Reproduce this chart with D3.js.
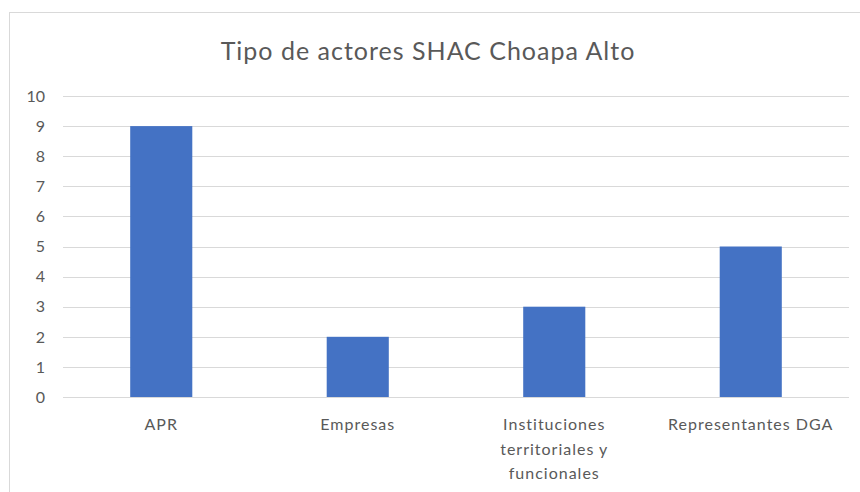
<!DOCTYPE html>
<html>
<head>
<meta charset="utf-8">
<script src="https://cdn.jsdelivr.net/npm/d3@7"></script>
<style>
  body { margin: 0; background: #fff; }
  svg { display: block; font-family: Lato, "Noto Sans", sans-serif; }
</style>
</head>
<body>
<svg id="chart" width="860" height="492"></svg>
<script>
const categories = ["APR", "Empresas", "Instituciones territoriales y funcionales", "Representantes DGA"];
const labelLines = [["APR"], ["Empresas"], ["Instituciones", "territoriales y", "funcionales"], ["Representantes DGA"]];
const values = [9, 2, 3, 5];
const yTicks = [0, 1, 2, 3, 4, 5, 6, 7, 8, 9, 10];
const title = "Tipo de actores SHAC Choapa Alto";

const svg = d3.select("#chart");

// chart area border
svg.append("rect")
  .attr("x", 9.5).attr("y", 12.5)
  .attr("width", 880).attr("height", 520)
  .attr("fill", "white")
  .attr("stroke", "#d9d9d9");

svg.append("text")
  .attr("x", 428).attr("y", 60)
  .attr("text-anchor", "middle")
  .attr("font-size", 25)
  .attr("letter-spacing", 1)
  .attr("fill", "#595959")
  .text(title);

const x = d3.scaleBand()
  .domain(categories)
  .range([63, 849])
  .paddingInner(0.684)
  .paddingOuter(0.342);

const y = d3.scaleLinear()
  .domain([0, 10])
  .range([397, 96]);

const g = svg.append("g");

g.selectAll("line.grid")
  .data(yTicks)
  .enter()
  .append("line")
  .attr("class", "grid")
  .attr("x1", 63).attr("x2", 849)
  .attr("y1", d => Math.round(y(d)) + 0.5)
  .attr("y2", d => Math.round(y(d)) + 0.5)
  .attr("stroke", "#d9d9d9")
  .attr("stroke-width", 1);

g.selectAll("text.ytick")
  .data(yTicks)
  .enter()
  .append("text")
  .attr("class", "ytick")
  .attr("x", 45)
  .attr("y", d => y(d))
  .attr("dy", "0.36em")
  .attr("text-anchor", "end")
  .attr("font-size", 16)
  .attr("fill", "#595959")
  .text(d => d);

g.selectAll("rect.bar")
  .data(values)
  .enter()
  .append("rect")
  .attr("class", "bar")
  .attr("x", (d, i) => x(categories[i]))
  .attr("width", x.bandwidth())
  .attr("y", d => y(d))
  .attr("height", d => y(0) - y(d))
  .attr("fill", "#4472c4");

const xl = g.selectAll("text.xtick")
  .data(labelLines)
  .enter()
  .append("text")
  .attr("class", "xtick")
  .attr("text-anchor", "middle")
  .attr("font-size", 16)
  .attr("letter-spacing", 1)
  .attr("fill", "#595959");

xl.selectAll("tspan")
  .data((d, i) => d.map(s => ({ s: s, cx: x(categories[i]) + x.bandwidth() / 2 })))
  .enter()
  .append("tspan")
  .attr("x", d => d.cx)
  .attr("y", (d, j) => 430 + j * 24.5)
  .text(d => d.s);
</script>
</body>
</html>
